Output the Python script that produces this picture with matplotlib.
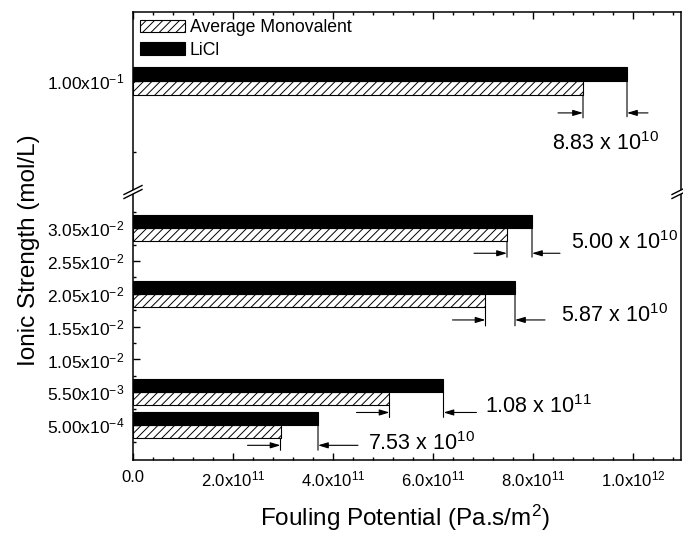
import numpy as np
import matplotlib
matplotlib.use('Agg')
import matplotlib.pyplot as plt
from matplotlib.ticker import FixedLocator, AutoMinorLocator
from matplotlib.transforms import offset_copy
from matplotlib.lines import Line2D
from matplotlib.patches import Polygon

plt.rcParams['font.family'] = ['Liberation Sans', 'DejaVu Sans']
plt.rcParams['mathtext.fontset'] = 'custom'
plt.rcParams['mathtext.rm'] = 'Liberation Sans'
plt.rcParams['mathtext.it'] = 'Liberation Sans:italic'
plt.rcParams['mathtext.bf'] = 'Liberation Sans:bold'
plt.rcParams['mathtext.default'] = 'regular'
plt.rcParams['hatch.linewidth'] = 0.7

# data (ionic strength in mol/L, fouling potential in Pa.s/m2)
strength = [5.00e-4, 5.50e-3, 2.05e-2, 3.05e-2, 1.00e-1]
avg_mono = [2.95e11, 5.13e11, 7.05e11, 7.48e11, 9.00e11]
licl = [3.70e11, 6.21e11, 7.64e11, 7.98e11, 9.88e11]
diff_labels = ['7.53 x 10$^{10}$', '1.08 x 10$^{11}$', '5.87 x 10$^{10}$',
               '5.00 x 10$^{10}$', '8.83 x 10$^{10}$']

low_ticks = [5.00e-4, 5.50e-3, 1.05e-2, 1.55e-2, 2.05e-2, 2.55e-2, 3.05e-2]
low_tick_labels = ['5.00x10$^{-4}$', '5.50x10$^{-3}$', '1.05x10$^{-2}$', '1.55x10$^{-2}$',
                   '2.05x10$^{-2}$', '2.55x10$^{-2}$', '3.05x10$^{-2}$']
low_minor = [-2e-3, 3e-3, 8e-3, 1.3e-2, 1.8e-2, 2.3e-2, 2.8e-2, 3.3e-2]
high_ticks = [1.00e-1]
high_tick_labels = ['1.00x10$^{-1}$']
high_minor = [0.09]
x_ticks = [0, 2e11, 4e11, 6e11, 8e11, 1e12]
x_tick_labels = ['0.0', '2.0x10$^{11}$', '4.0x10$^{11}$', '6.0x10$^{11}$',
                 '8.0x10$^{11}$', '1.0x10$^{12}$']

W, H = 683, 535
fig = plt.figure(figsize=(W / 100, H / 100), dpi=100)

def box(l, t, r, b):
    return [l / W, 1 - b / H, (r - l) / W, (b - t) / H]

ax_hi = fig.add_axes(box(133, 12, 681, 192))
ax_lo = fig.add_axes(box(133, 192, 681, 460), sharex=ax_hi)

bh = 0.002
y = np.array(strength)
for ax in (ax_hi, ax_lo):
    ax.barh(y - bh / 2, avg_mono, height=bh, color='white', edgecolor='black',
            hatch='////', lw=0.8, label='Average Monovalent')
    ax.barh(y + bh / 2, licl, height=bh, color='black', edgecolor='black',
            lw=0.8, label='LiCl')

ax_hi.set_xlim(0, 1.096e12)
ax_hi.set_ylim(0.0843, 0.1097)
ax_lo.set_ylim(-0.0048, 0.036)

ax_hi.spines['bottom'].set_visible(False)
ax_lo.spines['top'].set_visible(False)
for ax in (ax_hi, ax_lo):
    for s in ax.spines.values():
        s.set_linewidth(1.1)

ax_lo.set_yticks(low_ticks)
ax_lo.set_yticklabels(low_tick_labels)
ax_lo.yaxis.set_minor_locator(FixedLocator(low_minor))
ax_hi.set_yticks(high_ticks)
ax_hi.set_yticklabels(high_tick_labels)
ax_hi.yaxis.set_minor_locator(FixedLocator(high_minor))

ax_lo.set_xticks(x_ticks)
ax_lo.set_xticklabels(x_tick_labels)
ax_lo.xaxis.set_minor_locator(AutoMinorLocator(5))

ax_hi.tick_params(axis='x', which='both', direction='in', top=True, bottom=False,
                  labelbottom=False)
ax_lo.tick_params(axis='x', which='both', direction='in', top=False, bottom=True)
for ax in (ax_hi, ax_lo):
    ax.tick_params(axis='y', which='both', direction='in', left=True, right=False)
    ax.tick_params(which='major', length=5, width=1.0, labelsize=12.5, pad=6)
    ax.tick_params(which='minor', length=2.5, width=1.0)
ax_lo.tick_params(axis='x', which='major', pad=7, labelsize=12)

# difference markers: line drop, arrow depth, arrow lengths, text offset (pixels)
marks = [
    dict(drop=12, arr=7, la=33, ra=40, dx=50, dy=2, ha='left'),
    dict(drop=12, arr=7, la=33, ra=33, dx=42, dy=6, ha='left'),
    dict(drop=19, arr=13, la=33, ra=30, dx=46, dy=4, ha='left'),
    dict(drop=16, arr=12, la=33, ra=28, dx=39, dy=11, ha='left'),
    dict(drop=23, arr=18, la=25, ra=21, dx=-22, dy=-31, ha='center'),
]
arrow_kw = dict(arrowstyle='-|>,head_length=0.6,head_width=0.18', color='black',
                lw=0.8, shrinkA=0, shrinkB=0)
line_kw = dict(arrowstyle='-', color='black', lw=0.8, shrinkA=0, shrinkB=0)
for i, s in enumerate(strength):
    ax = ax_hi if s > 0.05 else ax_lo
    m = marks[i]
    base = s - bh
    ax.annotate('', xy=(avg_mono[i], base), xytext=(0, -m['drop']),
                textcoords='offset pixels', arrowprops=line_kw)
    ax.annotate('', xy=(licl[i], s), xytext=(0, -m['drop'] - 13),
                textcoords='offset pixels', arrowprops=line_kw)
    tr = offset_copy(ax.transData, fig=fig, x=0, y=-m['arr'], units='dots')
    ax.annotate('', xy=(avg_mono[i], base), xycoords=tr, xytext=(-m['la'], 0),
                textcoords='offset pixels', arrowprops=arrow_kw)
    ax.annotate('', xy=(licl[i], base), xycoords=tr, xytext=(m['ra'], 0),
                textcoords='offset pixels', arrowprops=arrow_kw)
    ax.annotate(diff_labels[i], xy=(licl[i], base), xycoords=tr,
                xytext=(m['dx'], m['dy']), textcoords='offset pixels',
                ha=m['ha'], va='center', fontsize=15.5)

ax_hi.legend(loc='upper left', bbox_to_anchor=(0, 1), frameon=False, fontsize=12.7,
             handlelength=2.55, handleheight=0.7, handletextpad=0.25,
             labelspacing=0.3, borderaxespad=0.0, borderpad=0.42)

# break marks on the spines
def px(x, yt):
    return (x / W, 1 - yt / H)

for xc in (133, 681):
    a1, b1 = px(xc - 9, 194 + 4.5), px(xc + 9, 194 - 4.5)
    a2, b2 = px(xc - 9, 190 + 4.5), px(xc + 9, 190 - 4.5)
    fig.add_artist(Polygon([a1, b1, b2, a2], closed=True, transform=fig.transFigure,
                           facecolor='white', edgecolor='none', zorder=5))
    for a, b in ((a1, b1), (a2, b2)):
        fig.add_artist(Line2D([a[0], b[0]], [a[1], b[1]], transform=fig.transFigure,
                              color='black', lw=1.0, zorder=6))

fig.text(29 / W, 1 - 250 / H, 'Ionic Strength (mol/L)', rotation=90,
         ha='center', va='center', fontsize=17.5)
fig.text(405 / W, 1 - 518 / H, 'Fouling Potential (Pa.s/m$^2$)',
         ha='center', va='center', fontsize=17.5)

fig.savefig('out.png', dpi=100)
